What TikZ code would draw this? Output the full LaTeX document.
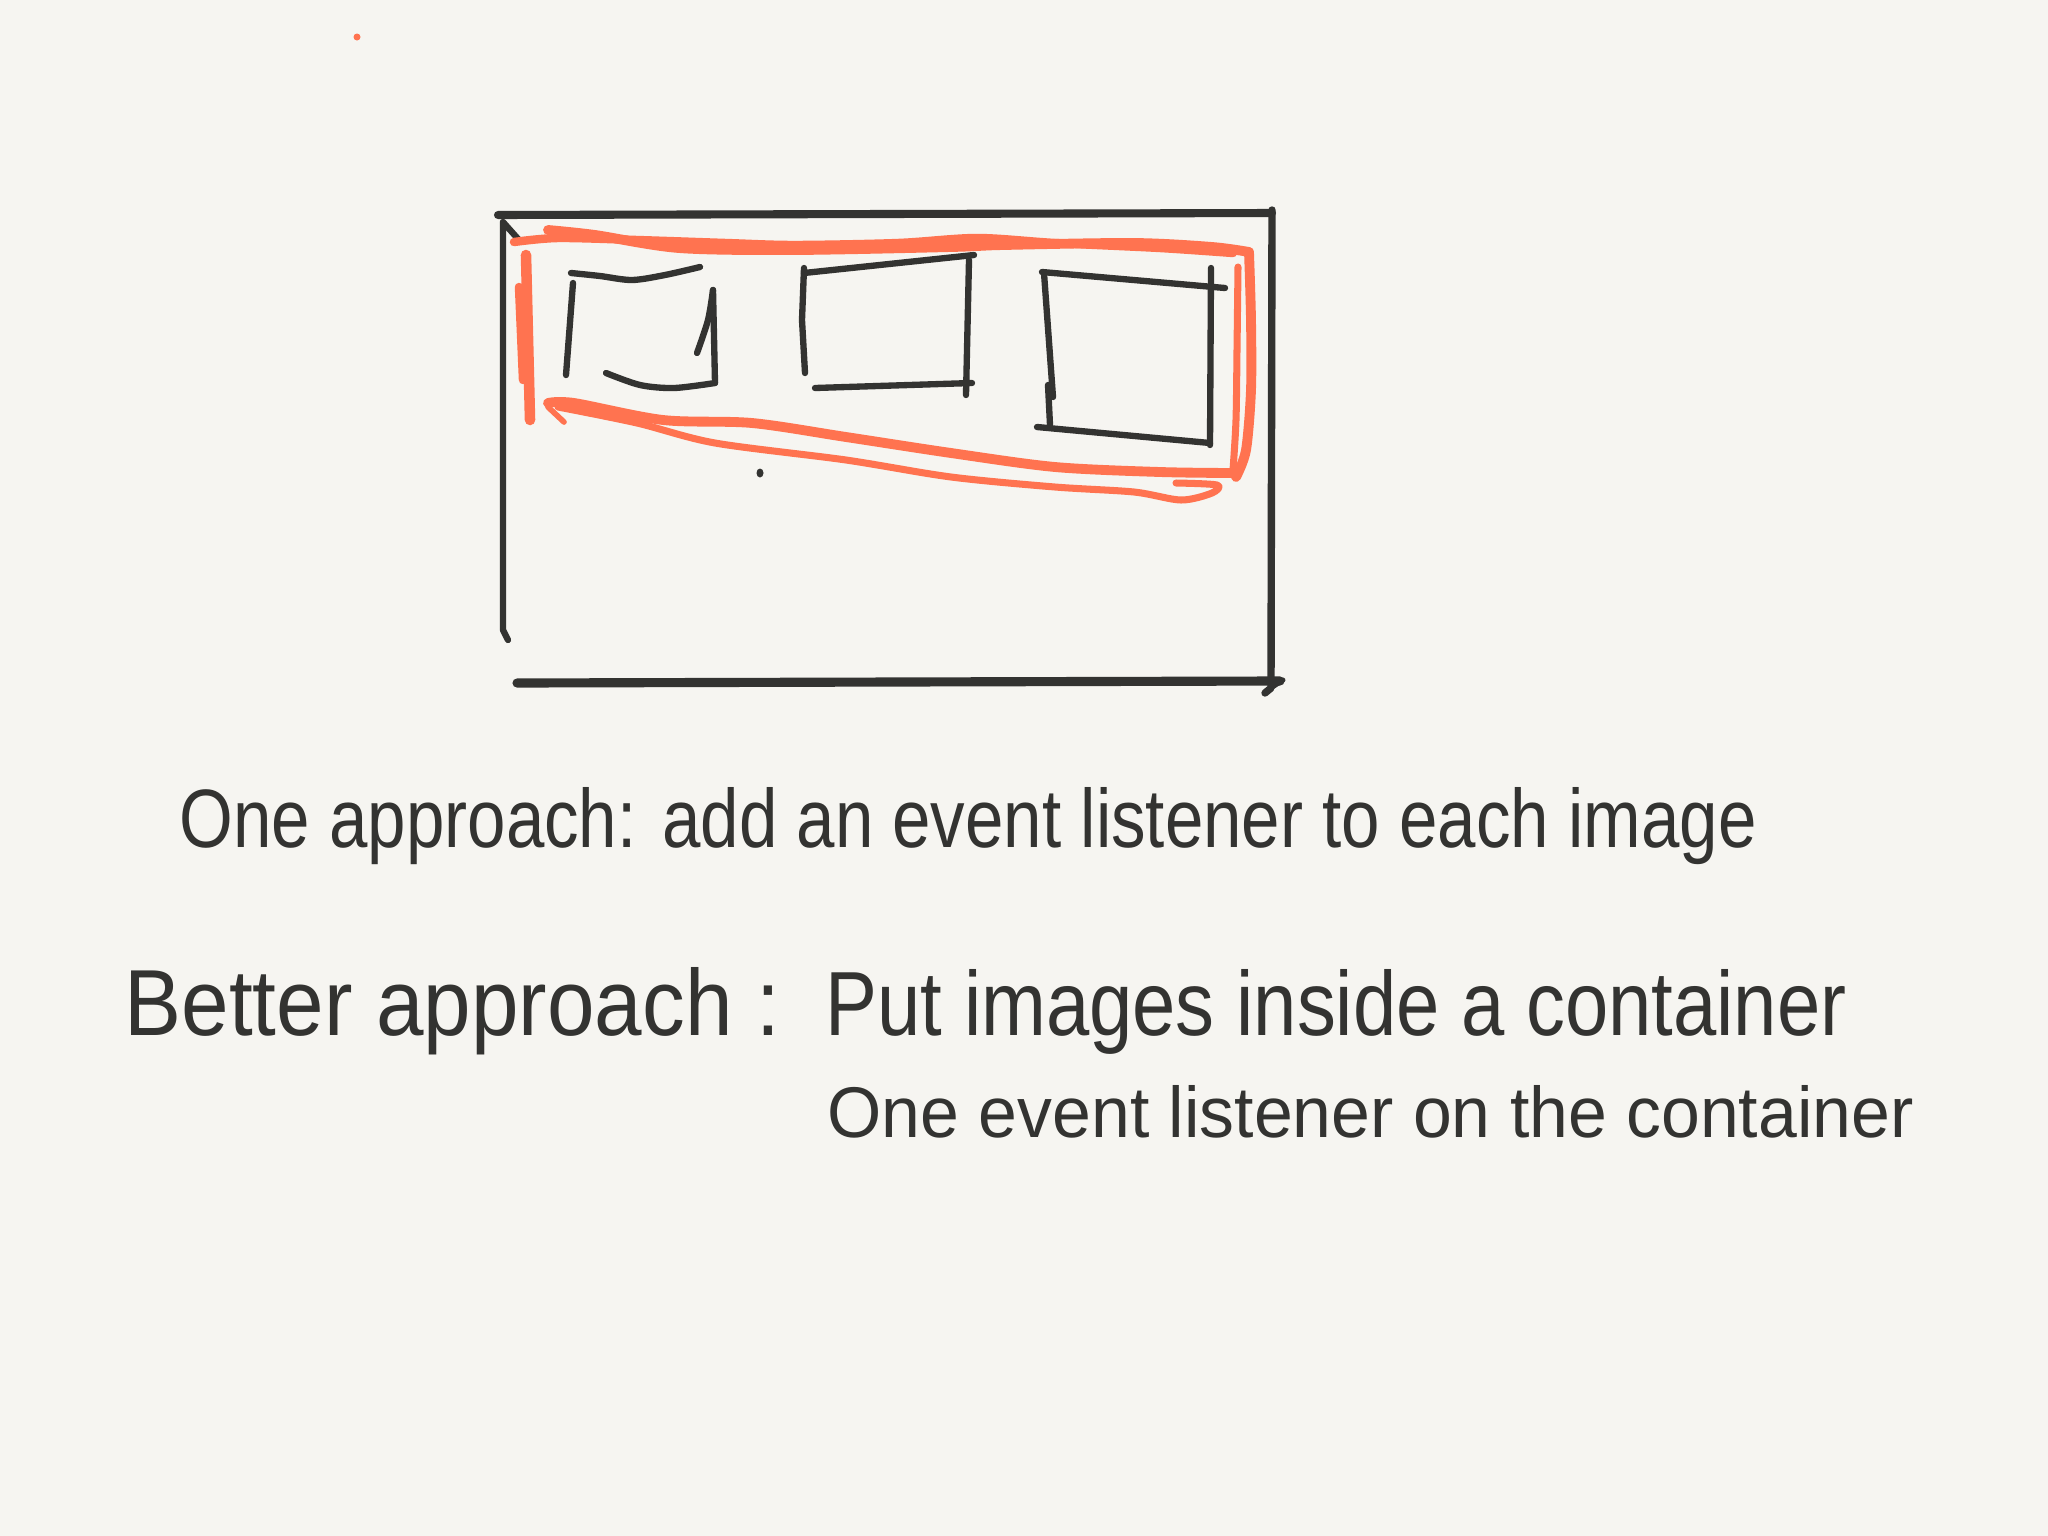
\documentclass[tikz,border=0pt]{standalone}
\usepackage{fontspec}
\usepackage{graphicx}
\setmainfont{Liberation Sans}
\definecolor{bg}{HTML}{F6F5F1}
\definecolor{ink}{HTML}{333331}
\definecolor{marker}{HTML}{FF7350}
\tikzset{
  pen/.style={draw=ink, line width=1.8pt, line cap=round, line join=round},
  hl/.style={draw=marker, line width=2.4pt, line cap=round, line join=round},
  label/.style={anchor=base west, inner sep=0pt, text=ink}
}
\begin{document}
\begin{tikzpicture}[x=0.01cm,y=-0.01cm]
\fill[bg] (0,0) rectangle (2048,1536);
\useasboundingbox (0,0) rectangle (2048,1536);

% outer container
\draw[pen, line width=2.3pt] (498,215) -- (1272,213);
\draw[pen, line width=1.8pt] (519,240) -- (503,222) -- (503,630) -- (508,640);
\draw[pen, line width=2.1pt] (1272,210) -- (1271,688) -- (1265,693);
\draw[pen, line width=1.4pt] (1271,688) -- (1283,680);
\draw[pen, line width=2.6pt] (517,683) -- (1280,681);

% orange highlight: top
\draw[hl] plot[smooth] coordinates {(514,242) (558,238) (637,240) (726,243) (794,245) (898,243) (977,238) (1055,243) (1160,248) (1233,253)};
\draw[hl, line width=2.8pt] plot[smooth] coordinates {(548,230) (595,235) (679,248) (794,250) (951,247) (1003,245) (1134,243) (1212,247) (1249,252)};
% right
\draw[hl, line width=2.8pt] plot[smooth] coordinates {(1249,252) (1251,320) (1251,390) (1246,450) (1236,477)};
\draw[hl, line width=2pt] plot[smooth] coordinates {(1238,267) (1237,350) (1236,420) (1233,470)};
% left
\draw[hl, line width=3pt] (526,255) -- (530,420);
\draw[hl, line width=2.4pt] (519,287) -- (523,380);
% bottom
\draw[hl, line width=2.8pt] plot[smooth] coordinates {(548,403) (574,403) (663,420) (752,423) (846,437) (951,453) (1055,467) (1160,472) (1233,473)};
\draw[hl, line width=2pt] plot[smooth] coordinates {(558,407) (637,423) (715,443) (846,460) (951,477) (1055,487) (1134,492) (1181,500) (1212,493) (1217,485) (1176,483)};
\draw[hl, line width=1.6pt] (548,407) -- (564,422);

% image 1
\draw[pen] plot[smooth] coordinates {(571,273) (600,276) (632,280) (665,275) (700,267)};
\draw[pen] (573,283) -- (566,375);
\draw[pen] plot[smooth] coordinates {(697,353) (708,320) (713,290)};
\draw[pen] (713,290) -- (715,383);
\draw[pen] plot[smooth] coordinates {(606,373) (640,385) (674,388) (715,383)};

% image 2
\draw[pen] (804,268) -- (802,320) -- (805,373);
\draw[pen] (804,273) -- (974,255);
\draw[pen] (969,260) -- (966,395);
\draw[pen] (815,388) -- (972,383);

% image 3
\draw[pen] (1042,272) -- (1225,288);
\draw[pen] (1044,273) -- (1053,397);
\draw[pen] (1048,385) -- (1050,425);
\draw[pen] (1211,268) -- (1210,445);
\draw[pen] (1037,427) -- (1210,443);

% dots
\fill[ink] (760,473) ellipse (3.5 and 4.5);
\fill[marker] (357,37) circle (3.5);

% text
\node[label] (t1) at (179,847) {\resizebox{15.76cm}{0.60cm}{One approach: add an event listener to each image}};
\node[label] (t2) at (124,1035) {\resizebox{6.55cm}{0.68cm}{Better approach :}};
\node[label] (t3) at (825,1035) {\resizebox{10.20cm}{0.66cm}{Put images inside a container}};
\node[label] (t4) at (827,1137) {\resizebox{10.85cm}{0.52cm}{One event listener on the container}};
\end{tikzpicture}
\end{document}
